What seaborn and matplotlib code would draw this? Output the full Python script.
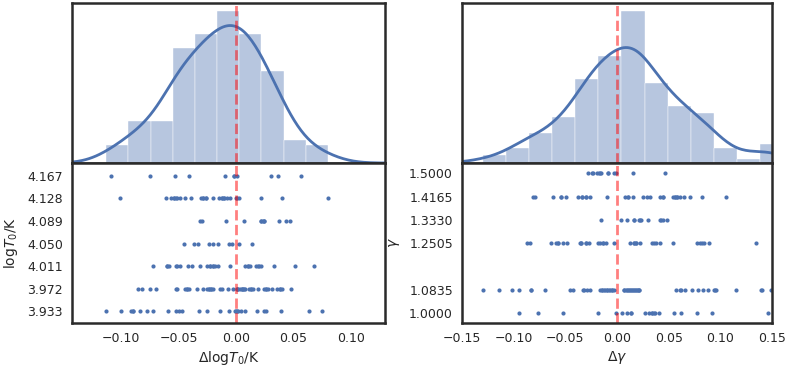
import numpy as np
import pandas as pd
import seaborn as sns
import matplotlib.pyplot as plt

# ---- left panel: offsets in log T0 for each input log T0 ----
logT_levels = [4.167, 4.128, 4.089, 4.050, 4.011, 3.972, 3.933]

dT_4167 = [-0.109, -0.075, -0.053, -0.041, -0.0096, -0.0015, -0.0013, 0.0012, 0.0306, 0.0365, 0.0563]
dT_4128 = [-0.1009, -0.0612, -0.0563, -0.0542, -0.0540, -0.0519, -0.0517, -0.049, -0.0446, -0.0396,
           -0.0306, -0.0286, -0.0284, -0.0265, -0.0263, -0.0204, -0.0149, -0.0125, -0.0123, -0.0105,
           -0.0103, -0.0081, -0.0052, 0.0, 0.0011, 0.0029, 0.0216, 0.0405, 0.0802]
dT_4089 = [-0.0315, -0.0298, -0.0087, 0.007, 0.0216, 0.0218, 0.0234, 0.0245, 0.0247, 0.0376, 0.0437, 0.0475]
dT_4050 = [-0.0455, -0.0365, -0.0335, -0.0234, -0.0199, -0.016, -0.0061, -0.0039, 0.0024, 0.0137]
dT_4011 = [-0.0724, -0.0606, -0.0604, -0.0584, -0.0519, -0.0517, -0.049, -0.0417, -0.0388, -0.0315,
           -0.0251, -0.0227, -0.0225, -0.0204, -0.0202, -0.0181, -0.016, -0.0052, 0.0079, 0.0102,
           0.0104, 0.0125, 0.0172, 0.0195, 0.0197, 0.0219, 0.0335, 0.0519, 0.0682]
dT_3972 = [-0.0857, -0.0816, -0.0752, -0.07, -0.0525, -0.0514, -0.0444, -0.0426, -0.0424, -0.0414,
           -0.0339, -0.0291, -0.0251, -0.0234, -0.0232, -0.0216, -0.0214, -0.0199, -0.014, -0.012,
           -0.0067, -0.0024, 0.0006, 0.0008, 0.002, 0.0035, 0.005, 0.0052, 0.0064, 0.0066, 0.0079,
           0.0114, 0.0131, 0.0133, 0.0149, 0.0195, 0.0248, 0.026, 0.0262, 0.0277, 0.0312, 0.0361,
           0.0385, 0.0387, 0.0405, 0.0481]
dT_3933 = [-0.1131, -0.1, -0.0919, -0.0898, -0.0896, -0.084, -0.0776, -0.0724, -0.0592, -0.0525,
           -0.0501, -0.0472, -0.0321, -0.0251, -0.014, -0.0059, -0.0011, 0.0004, 0.0006, 0.002,
           0.0041, 0.0079, 0.0181, 0.0245, 0.0262, 0.0394, 0.0639, 0.0752]
dT_rows = [dT_4167, dT_4128, dT_4089, dT_4050, dT_4011, dT_3972, dT_3933]

# ---- right panel: offsets in gamma for each input gamma ----
gamma_levels = [1.5000, 1.4165, 1.3330, 1.2505, 1.0835, 1.0000]

dg_15000 = [-0.0279, -0.0238, -0.0236, -0.0193, -0.0173, -0.0161, -0.0159, -0.0091, -0.0089,
            -0.0033, -0.001, 0.015, 0.0465]
dg_14165 = [-0.0816, -0.0797, -0.0617, -0.0544, -0.0542, -0.0498, -0.038, -0.0337, -0.0335,
            -0.0299, -0.0297, -0.0264, -0.01, 0.008, 0.0106, 0.0108, 0.015, 0.0247, 0.0292, 0.0318,
            0.042, 0.0446, 0.0448, 0.054, 0.0562, 0.0564, 0.0581, 0.0583, 0.0613, 0.0651, 0.0703,
            0.0825, 0.1053]
dg_13330 = [-0.0154, 0.0041, 0.0093, 0.016, 0.0162, 0.0215, 0.0225, 0.0234, 0.0299, 0.042, 0.0422,
            0.044, 0.0482]
dg_12505 = [-0.0867, -0.0842, -0.0643, -0.0588, -0.0569, -0.0567, -0.0524, -0.0489, -0.036, -0.0347,
            -0.0345, -0.0299, -0.0297, -0.0274, -0.0187, -0.0161, -0.0135, -0.0133, -0.011, -0.0033,
            0.0128, 0.016, 0.0162, 0.0183, 0.0185, 0.0225, 0.0337, 0.0359, 0.0379, 0.042, 0.0545,
            0.0777, 0.0803, 0.0825, 0.0844, 0.0887, 0.1345]
dg_10835 = [-0.1301, -0.1141, -0.1021, -0.0948, -0.0833, -0.083, -0.0701, -0.0457, -0.0424, -0.0334,
            -0.0315, -0.0289, -0.0257, -0.0168, -0.0145, -0.0143, -0.0122, -0.012, -0.0096, -0.0094,
            -0.0074, -0.0072, -0.0048, -0.0046, -0.0033, 0.0064, 0.007, 0.0087, 0.0095, 0.0106,
            0.0115, 0.0125, 0.0135, 0.0145, 0.0155, 0.0164, 0.0175, 0.0183, 0.0192, 0.0202, 0.021,
            0.0215, 0.0571, 0.0613, 0.0615, 0.0658, 0.0723, 0.0781, 0.0835, 0.0883, 0.0938, 0.0948,
            0.0955, 0.1151, 0.139, 0.1405, 0.1494, 0.161]
dg_10000 = [-0.0951, -0.0768, -0.052, -0.0187, -0.0007, 0.0048, 0.0096, 0.0131, 0.0133, 0.0266,
            0.0311, 0.0337, 0.0339, 0.0362, 0.0364, 0.0408, 0.0555, 0.062, 0.0771, 0.0916, 0.1461]
dg_rows = [dg_15000, dg_14165, dg_13330, dg_12505, dg_10835, dg_10000]

df_T = pd.concat([pd.DataFrame({'dT': r, 'T': lv}) for lv, r in zip(logT_levels, dT_rows)])
df_g = pd.concat([pd.DataFrame({'dg': r, 'g': lv}) for lv, r in zip(gamma_levels, dg_rows)])

sns.set_style('white')
plt.rcParams['font.family'] = ['DejaVu Sans']
plt.rcParams['axes.labelsize'] = 10
blue = '#4c72b0'

fig = plt.figure(figsize=(7.89, 3.72), dpi=100)
bot, mid, top = 0.1317, 0.5618, 0.992
axh1 = fig.add_axes([0.0913, mid, 0.3967, top - mid])
axs1 = fig.add_axes([0.0913, bot, 0.3967, mid - bot])
axh2 = fig.add_axes([0.5856, mid, 0.3929, top - mid])
axs2 = fig.add_axes([0.5856, bot, 0.3929, mid - bot])

# histograms + kde
sns.histplot(data=df_T, x='dT', bins=10, stat='density', kde=True,
             kde_kws={'cut': 3, 'bw_adjust': 1.2},
             color=blue, alpha=0.4, edgecolor='white', linewidth=0.3,
             line_kws={'lw': 2}, ax=axh1)
sns.histplot(data=df_g, x='dg', bins=13, stat='density', kde=True, kde_kws={'cut': 3},
             color=blue, alpha=0.4, edgecolor='white', linewidth=0.3,
             line_kws={'lw': 2}, ax=axh2)

# scatter of offsets per input value
sns.scatterplot(data=df_T, x='dT', y='T', color=blue, s=9, linewidth=0, ax=axs1)
sns.scatterplot(data=df_g, x='dg', y='g', color=blue, s=9, linewidth=0, ax=axs2)

for ax in [axh1, axs1]:
    ax.set_xlim(-0.143, 0.130)
for ax in [axh2, axs2]:
    ax.set_xlim(-0.15, 0.15)

for ax in [axh1, axh2]:
    ax.set_yticks([])
    ax.set_xlabel('')
    ax.set_ylabel('')
    ax.tick_params(labelbottom=False)

axs1.set_ylim(3.913, 4.189)
axs1.set_yticks(logT_levels)
axs1.set_yticklabels([f'{v:.3f}' for v in logT_levels])
axs1.set_xticks([-0.10, -0.05, 0.00, 0.05, 0.10])
axs1.set_xlabel(r'$\Delta$log$T_0$/K', labelpad=3)
axs1.set_ylabel(r'log$T_0$/K', labelpad=5)

axs2.set_ylim(0.966, 1.537)
axs2.set_yticks(gamma_levels)
axs2.set_yticklabels([f'{v:.4f}' for v in gamma_levels])
axs2.set_xticks([-0.15, -0.10, -0.05, 0.00, 0.05, 0.10, 0.15])
axs2.set_xlabel(r'$\Delta\gamma$', labelpad=3)
axs2.set_ylabel(r'$\gamma$', labelpad=5)

for ax in [axh1, axs1, axh2, axs2]:
    ax.axvline(0, color='red', ls='--', lw=2, alpha=0.5)
    for sp in ax.spines.values():
        sp.set_color('#2a2a2a')
        sp.set_linewidth(1.8)
    ax.tick_params(labelsize=9, length=0, pad=6.5)

plt.savefig('out.png', dpi=100)
